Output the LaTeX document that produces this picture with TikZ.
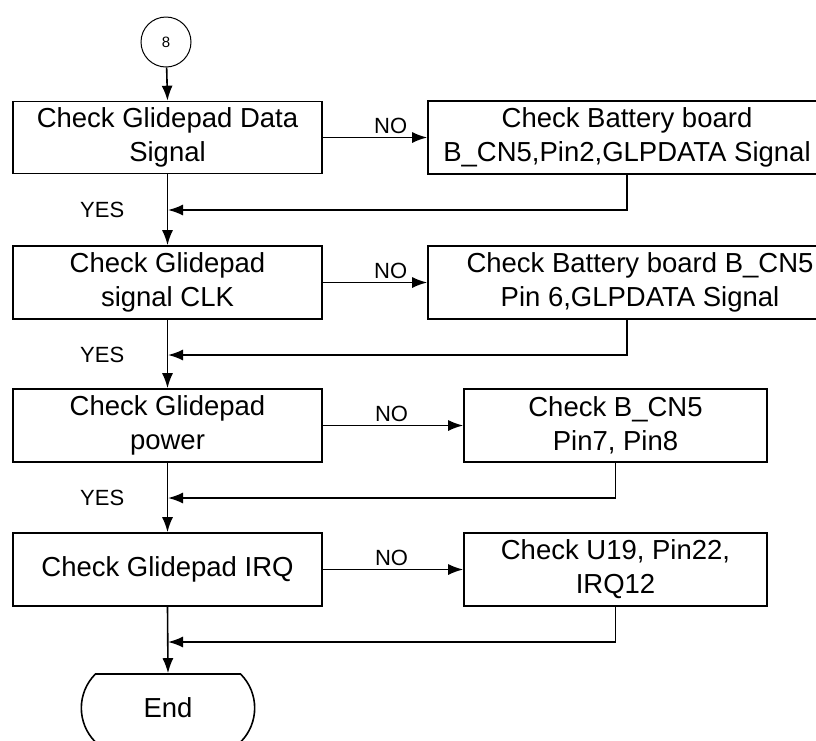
\documentclass[tikz,border=0pt]{standalone}
\usepackage{fontspec}
\setmainfont{Liberation Sans}
\usetikzlibrary{arrows.meta,shapes.misc}

\begin{document}
\begin{tikzpicture}[x=1pt, y=-1pt, line width=1.6pt,
	box/.style={draw, align=center, inner sep=0pt, font=\fontsize{27.5}{34}\selectfont},
	lbl/.style={font=\fontsize{22}{26}\selectfont, inner sep=3pt},
	arr/.style={-{Latex[length=15pt,width=11pt]}}]
		\useasboundingbox (0,0) rectangle (816,740);
		% main column
		\node[draw, circle, minimum size=50pt, inner sep=0pt, line width=1pt, font=\fontsize{15}{18}\selectfont] (start) at (166,42) {8};
		\node[box, minimum width=309pt, minimum height=72pt] (chk1) at (167.5,137.5) {Check Glidepad Data\\Signal};
		\node[box, minimum width=309pt, minimum height=73pt] (chk2) at (167.5,282.5) {Check Glidepad\\signal CLK};
		\node[box, minimum width=309pt, minimum height=73pt] (chk3) at (167.5,425.5) {Check Glidepad\\power};
		\node[box, minimum width=309pt, minimum height=73pt] (chk4) at (167.5,569.5) {Check Glidepad IRQ};
		\node[draw, rounded rectangle, rounded rectangle arc length=90, minimum width=180pt, minimum height=68pt, font=\fontsize{27.5}{34}\selectfont] (stop) at (168,708) {End};
		% repair boxes
		\node[box, minimum width=398pt, minimum height=73pt] (fix1) at (627,137.5) {Check Battery board\\B\_CN5,Pin2,GLPDATA Signal};
		\node[box, minimum width=424pt, minimum height=73pt] (fix2) at (640,282.5) {Check Battery board B\_CN5\\Pin 6,GLPDATA Signal};
		\node[box, minimum width=303pt, minimum height=73pt] (fix3) at (615.5,425.5) {Check B\_CN5\\Pin7, Pin8};
		\node[box, minimum width=303pt, minimum height=73pt] (fix4) at (615.5,569.5) {Check U19, Pin22,\\IRQ12};
		\coordinate (m1) at (168,210);
		\coordinate (m2) at (168,355);
		\coordinate (m3) at (168,498);
		\coordinate (m4) at (168,642);
		
		\draw[arr] (start) -- (chk1.north);
		\draw[arr] (chk1.south) -- (chk2.north);
		\draw[arr] (chk2.south) -- (chk3.north);
		\draw[arr] (chk3.south) -- (chk4.north);
		\draw[arr] (chk4.south) -- (stop.north);
		
		\draw[arr] (chk1.east) -- node[lbl, above, pos=0.65] {NO} (fix1.west);
		\draw[arr] (chk2.east) -- node[lbl, above, pos=0.65] {NO} (fix2.west);
		\draw[arr] (chk3.east) -- node[lbl, above, pos=0.49] {NO} (fix3.west);
		\draw[arr] (chk4.east) -- node[lbl, above, pos=0.49] {NO} (fix4.west);
		
		\draw[arr] (fix1.south) |- (m1);
		\draw[arr] ([xshift=-13pt]fix2.south) |- (m2);
		\draw[arr] (fix3.south) |- (m3);
		\draw[arr] (fix4.south) |- (m4);
		
		\foreach \m in {m1,m2,m3}
			\node[lbl, anchor=east] at ([xshift=-40pt]\m) {YES};
\end{tikzpicture}
\end{document}
